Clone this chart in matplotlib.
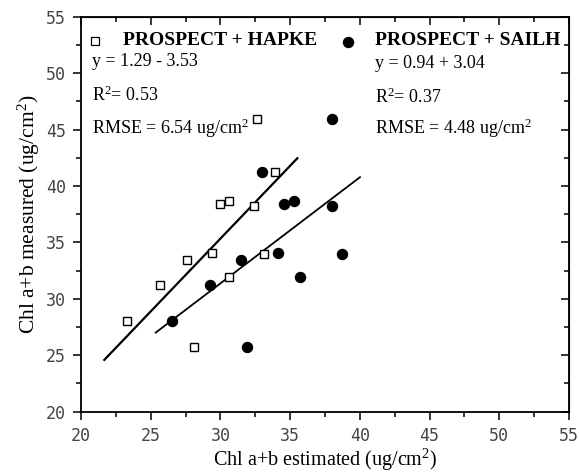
import numpy as np
import matplotlib.pyplot as plt
from matplotlib.ticker import MultipleLocator

plt.rcParams['mathtext.fontset'] = 'custom'
plt.rcParams['mathtext.rm'] = 'Liberation Serif'
plt.rcParams['mathtext.it'] = 'Liberation Serif:italic'
plt.rcParams['mathtext.bf'] = 'Liberation Serif:bold'

# measured chlorophyll
measured = [28.0, 31.2, 33.4, 25.7, 34.1, 38.4, 38.7, 31.9, 38.2, 45.9, 34.0, 41.2]
meas_sailh = [28.0, 31.2, 33.4, 25.7, 34.1, 38.4, 38.7, 31.9, 38.2, 45.9, 41.2, 34.0]

# estimated with PROSPECT + HAPKE
est_hapke = [23.3, 25.7, 27.6, 28.1, 29.4, 30.0, 30.6, 30.6, 32.4, 32.65, 33.1, 33.9]
# estimated with PROSPECT + SAILH
est_sailh = [26.55, 29.25, 31.5, 31.9, 34.15, 34.55, 35.3, 35.7, 37.98, 37.98, 33.0, 38.74]

# regression lines (end points)
fit_hapke_x = [21.67, 35.52]
fit_hapke_y = [24.59, 42.46]
fit_sailh_x = [25.36, 40.01]
fit_sailh_y = [27.01, 40.78]

serif = 'Liberation Serif'

fig = plt.figure(figsize=(5.79, 4.74), dpi=100)
ax = fig.add_axes([0.1399, 0.1314, 0.8428, 0.8334])

ax.plot(fit_hapke_x, fit_hapke_y, color='black', lw=1.6)
ax.plot(fit_sailh_x, fit_sailh_y, color='black', lw=1.3)
ax.plot(est_hapke, measured, 's', ms=6.3, mfc='white', mec='black', mew=1.0, ls='none')
ax.plot(est_sailh, meas_sailh, 'o', ms=7.2, color='black', ls='none')

ax.set_xlim(20, 55)
ax.set_ylim(20, 55)
ax.xaxis.set_major_locator(MultipleLocator(5))
ax.xaxis.set_minor_locator(MultipleLocator(2.5))
ax.yaxis.set_major_locator(MultipleLocator(5))
ax.yaxis.set_minor_locator(MultipleLocator(2.5))

for s in ax.spines.values():
    s.set_linewidth(1.3)

ax.tick_params(which='both', direction='out', top=False, right=False, width=1.1)
ax.tick_params(which='major', length=6, pad=5)
ax.tick_params(which='minor', length=3.5)
for lab in ax.get_xticklabels() + ax.get_yticklabels():
    lab.set_family('DejaVu Sans Mono')
    lab.set_fontsize(12)
    lab.set_color('#444444')

# mirrored ticks on top / right, pointing inside
secx = ax.secondary_xaxis('top')
secx.xaxis.set_major_locator(MultipleLocator(5))
secx.xaxis.set_minor_locator(MultipleLocator(2.5))
secx.tick_params(which='both', direction='in', labeltop=False, width=1.1)
secx.tick_params(which='major', length=6)
secx.tick_params(which='minor', length=3.5)
secy = ax.secondary_yaxis('right')
secy.yaxis.set_major_locator(MultipleLocator(5))
secy.yaxis.set_minor_locator(MultipleLocator(2.5))
secy.tick_params(which='both', direction='in', labelright=False, width=1.1)
secy.tick_params(which='major', length=6)
secy.tick_params(which='minor', length=3.5)

ax.set_xlabel('Chl a+b estimated (ug/cm$^2$)', family=serif, fontsize=14.5)
ax.set_ylabel('Chl a+b measured (ug/cm$^2$)', family=serif, fontsize=15.5)
ax.xaxis.set_label_coords(0.5, -0.09)
ax.yaxis.set_label_coords(-0.107, 0.5)
ax.yaxis.label.set_va('center')

# legend-like annotations
ax.plot([21.0], [52.85], 's', ms=5.5, mfc='white', mec='black', mew=0.9)
ax.text(23.0, 52.85, 'PROSPECT + HAPKE', family=serif, fontsize=14, weight='bold', va='center')
ax.plot([39.15], [52.75], 'o', ms=7.2, color='black')
ax.text(41.1, 52.85, 'PROSPECT + SAILH', family=serif, fontsize=14, weight='bold', va='center')

ax.text(20.8, 51.05, 'y = 1.29 - 3.53', family=serif, fontsize=13, va='center')
ax.text(20.8, 48.05, 'R$^2$= 0.53', family=serif, fontsize=13, va='center')
ax.text(20.8, 45.1, 'RMSE = 6.54 ug/cm$^2$', family=serif, fontsize=13, va='center')
ax.text(41.1, 50.87, 'y = 0.94 + 3.04', family=serif, fontsize=13, va='center')
ax.text(41.1, 47.9, 'R$^2$= 0.37', family=serif, fontsize=13, va='center')
ax.text(41.1, 45.1, 'RMSE = 4.48 ug/cm$^2$', family=serif, fontsize=13, va='center')

fig.savefig('out.png', dpi=100)
